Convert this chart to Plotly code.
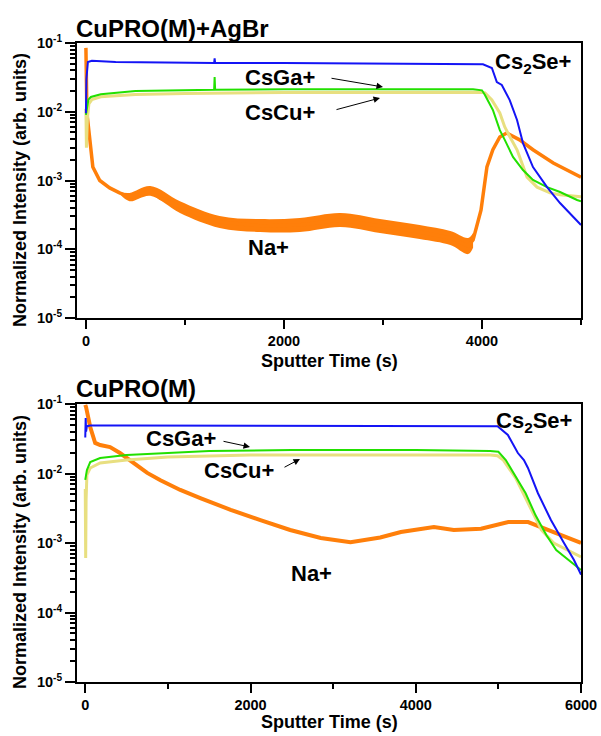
import plotly.graph_objects as go

W, H = 601, 736
FONT = "Arial, 'Liberation Sans', sans-serif"

# ---------------- top panel: CuPRO(M)+AgBr ----------------
t_blue_top = [0, 5, 20, 60, 300, 1000, 1295, 1300, 1305, 2000, 3000, 4000, 4010, 4100, 4150,
              4200, 4280, 4354, 4414, 4515, 4657, 4788, 4960, 5000]
v_blue_top = [0.0095, 0.03, 0.053, 0.055, 0.053, 0.052, 0.051, 0.060, 0.051, 0.051, 0.0505, 0.050,
              0.049, 0.0433, 0.027, 0.0245, 0.0148, 0.0076, 0.0035, 0.00157, 0.0008, 0.00047,
              0.000266, 0.000225]

t_green_top = [0, 10, 25, 50, 150, 500, 1000, 1295, 1300, 1305, 2000, 3000, 3910, 4000, 4030,
               4110, 4180, 4230, 4313, 4414, 4515, 4657, 4788, 4960, 5000]
v_green_top = [0.009, 0.012, 0.015, 0.0164, 0.018, 0.020, 0.0208, 0.0209, 0.032, 0.0209, 0.0213,
               0.0214, 0.0212, 0.0205, 0.0175, 0.0106, 0.0054, 0.0039, 0.0022, 0.00142, 0.00102,
               0.0008, 0.00068, 0.00052, 0.0005]

t_yellow_top = [0, 5, 15, 30, 60, 150, 500, 1000, 2000, 3000, 4000, 4030, 4100, 4180, 4230, 4283,
                4354, 4455, 4556, 4687, 4788, 5000]
v_yellow_top = [0.011, 0.003, 0.008, 0.013, 0.015, 0.0165, 0.0178, 0.0185, 0.019, 0.0192, 0.0192,
                0.0188, 0.0148, 0.0096, 0.006, 0.0043, 0.0028, 0.00112, 0.0008, 0.00066, 0.00062,
                0.00058]

t_orange_top = [0, 5, 10, 40, 70, 140, 240, 340, 440, 540, 650, 750, 950, 1150, 1350, 1760, 2160,
                2570, 2970, 3370, 3680, 3860, 3910, 3950, 3990, 4050, 4110, 4180, 4250, 4380,
                4515, 4720, 4860, 5000]
v_orange_top = [0.085, 0.029, 0.0096, 0.0039, 0.00157, 0.001, 0.00078, 0.00066, 0.000575,
                0.00062, 0.00071, 0.00055, 0.00041, 0.00031, 0.00025, 0.000218, 0.000225,
                0.000266, 0.000218, 0.000178, 0.000146, 0.000112, 0.000137, 0.00022, 0.00037,
                0.00157, 0.0028, 0.0043, 0.0049, 0.0039, 0.0028, 0.0018, 0.00142, 0.00112]

# noise envelope of the Na+ trace (top panel)
t_orange_env = [340, 440, 650, 950, 1350, 1760, 2160, 2570, 2970, 3370, 3680, 3860, 3910]
v_orange_up = [6.8e-4, 6.6e-4, 8.3e-4, 5.0e-4, 3.05e-4, 2.75e-4, 2.85e-4, 3.37e-4, 2.75e-4,
               2.25e-4, 1.84e-4, 1.46e-4, 1.72e-4]
v_orange_lo = [6.4e-4, 5.0e-4, 6.0e-4, 3.37e-4, 2.04e-4, 1.78e-4, 1.78e-4, 2.11e-4, 1.72e-4,
               1.41e-4, 1.15e-4, 8.5e-5, 1.05e-4]

# ---------------- bottom panel: CuPRO(M) ----------------
t_blue_bot = [0, 5, 10, 20, 60, 500, 1000, 2000, 3000, 4000, 4990, 5115, 5236, 5309, 5358, 5479,
              5636, 5794, 5915, 6000]
v_blue_bot = [0.033, 0.063, 0.040, 0.048, 0.049, 0.049, 0.049, 0.049, 0.049, 0.049, 0.048,
              0.0358, 0.0197, 0.0156, 0.012, 0.0052, 0.00214, 0.001, 0.00057, 0.00035]

t_green_bot = [0, 10, 20, 60, 180, 500, 1000, 1500, 2500, 4000, 4900, 5000, 5090, 5210, 5330,
               5450, 5580, 5700, 5820, 5940, 6000]
v_green_bot = [0.0081, 0.0105, 0.0112, 0.0146, 0.0167, 0.0185, 0.0197, 0.0211, 0.0218, 0.0218,
               0.021, 0.0205, 0.0156, 0.0092, 0.0052, 0.0025, 0.0013, 0.00079, 0.00061, 0.00048,
               0.00041]

t_yellow_bot = [0, 5, 10, 20, 60, 180, 500, 1000, 2000, 4900, 4990, 5060, 5210, 5370, 5520, 5670,
                5840, 6000]
v_yellow_bot = [0.006, 0.00061, 0.0042, 0.0096, 0.012, 0.0142, 0.0156, 0.0173, 0.0185, 0.0185,
                0.018, 0.0156, 0.0086, 0.0035, 0.00154, 0.001, 0.00079, 0.00063]

t_orange_bot = [0, 10, 60, 120, 180, 300, 420, 580, 750, 910, 1150, 1400, 1760, 2120, 2480, 2850,
                3210, 3570, 3820, 4220, 4460, 4790, 5120, 5360, 5520, 5760, 6000]
v_orange_bot = [0.097, 0.09, 0.0467, 0.0275, 0.0257, 0.024, 0.0197, 0.0142, 0.0102, 0.008, 0.0058,
                0.0044, 0.003, 0.00214, 0.00154, 0.00118, 0.00103, 0.0012, 0.00144, 0.0017,
                0.00154, 0.0016, 0.002, 0.002, 0.0017, 0.0013, 0.001]

BLUE = "#1414f5"
GREEN = "#22e000"
YELLOW = "#e8df80"
ORANGE = "#ff7f0a"

fig = go.Figure()

def add_line(t, v, color, width, xa, ya):
    fig.add_trace(go.Scatter(x=t, y=v, mode="lines", line=dict(color=color, width=width),
                             xaxis=xa, yaxis=ya, showlegend=False, hoverinfo="skip"))

# top panel traces (orange underneath)
fig.add_trace(go.Scatter(x=t_orange_env, y=v_orange_lo, mode="lines", line=dict(width=0),
                         line_shape="spline", xaxis="x", yaxis="y", showlegend=False,
                         hoverinfo="skip"))
fig.add_trace(go.Scatter(x=t_orange_env, y=v_orange_up, mode="lines", line=dict(width=0),
                         line_shape="spline", fill="tonexty", fillcolor=ORANGE, xaxis="x",
                         yaxis="y", showlegend=False, hoverinfo="skip"))
add_line(t_orange_top, v_orange_top, ORANGE, 3.5, "x", "y")
add_line(t_yellow_top, v_yellow_top, YELLOW, 3, "x", "y")
add_line(t_green_top, v_green_top, GREEN, 2, "x", "y")
add_line(t_blue_top, v_blue_top, BLUE, 2, "x", "y")

# bottom panel traces
add_line(t_orange_bot, v_orange_bot, ORANGE, 4, "x2", "y2")
add_line(t_yellow_bot, v_yellow_bot, YELLOW, 3, "x2", "y2")
add_line(t_green_bot, v_green_bot, GREEN, 2, "x2", "y2")
add_line(t_blue_bot, v_blue_bot, BLUE, 2, "x2", "y2")

def px(x):
    return x / W

def py(y):
    return 1 - y / H

y_major = [1e-5, 1e-4, 1e-3, 1e-2, 1e-1]
y_text = ["<b>10<sup>-5</sup></b>", "<b>10<sup>-4</sup></b>", "<b>10<sup>-3</sup></b>",
          "<b>10<sup>-2</sup></b>", "<b>10<sup>-1</sup></b>"]
y_minor = [k * 10 ** d for d in (-5, -4, -3, -2) for k in range(2, 10)]

tickfont = dict(family=FONT, size=14.5, color="black", weight="bold")

def xaxis_cfg(domain, rng, anchor, ticks_vals):
    return dict(domain=domain, range=rng, anchor=anchor, showline=True, linecolor="black",
                linewidth=2, mirror=True, ticks="outside", ticklen=9, tickwidth=2,
                tickcolor="black", tickvals=ticks_vals, ticktext=[str(v) for v in ticks_vals],
                tickfont=tickfont, showgrid=False, zeroline=False, automargin=False,
                minor=dict(dtick=1000, tick0=0, ticks="outside", ticklen=5, tickwidth=2,
                           tickcolor="black", showgrid=False))

def yaxis_cfg(domain, anchor):
    return dict(domain=domain, type="log", range=[-5, -1], anchor=anchor, showline=True,
                linecolor="black", linewidth=2, mirror=True, ticks="outside", ticklen=10,
                tickwidth=2, tickcolor="black", tickvals=y_major, ticktext=y_text,
                tickfont=tickfont, showgrid=False, zeroline=False, automargin=False,
                minor=dict(tickvals=y_minor, ticks="outside", ticklen=5, tickwidth=1.5,
                           tickcolor="black", showgrid=False))

xdom = [px(77), px(581)]
fig.update_layout(
    width=W, height=H, autosize=False,
    margin=dict(l=0, r=0, t=0, b=0, autoexpand=False),
    paper_bgcolor="white", plot_bgcolor="white",
    font=dict(family=FONT, color="black"),
    xaxis=xaxis_cfg(xdom, [-90, 5000], "y", [0, 2000, 4000]),
    yaxis=yaxis_cfg([py(318), py(43)], "x"),
    xaxis2=xaxis_cfg(xdom, [-100, 6000], "y2", [0, 2000, 4000, 6000]),
    yaxis2=yaxis_cfg([py(682), py(404)], "x2"),
)

annotations = []

def label(text, x, y, size=22, xanchor="left", angle=0):
    annotations.append(dict(text=text, x=px(x), y=py(y), xref="paper", yref="paper",
                            xanchor=xanchor, yanchor="middle", showarrow=False,
                            textangle=angle,
                            font=dict(family=FONT, size=size, color="black")))

def arrow(tail, head):
    annotations.append(dict(text="", x=px(head[0]), y=py(head[1]), xref="paper", yref="paper",
                            ax=tail[0] - head[0], ay=tail[1] - head[1], showarrow=True,
                            arrowhead=2, arrowsize=1.3, arrowwidth=1, arrowcolor="black",
                            standoff=0, startstandoff=0))

# panel titles
label("<b>CuPRO(M)+AgBr</b>", 74, 28, size=24)
label("<b>CuPRO(M)</b>", 74, 388, size=24)

# axis titles
label("<b>Sputter Time (s)</b>", 329, 361, size=18, xanchor="center")
label("<b>Sputter Time (s)</b>", 329, 722, size=18, xanchor="center")
label("<b>Normalized Intensity (arb. units)</b>", 20, 190, size=18, xanchor="center", angle=-90)
label("<b>Normalized Intensity (arb. units)</b>", 20, 552, size=18, xanchor="center", angle=-90)

# species labels, top
label("<b>Cs<sub>2</sub>Se+</b>", 493, 63)
label("<b>CsGa+</b>", 243, 78)
label("<b>CsCu+</b>", 243, 113)
label("<b>Na+</b>", 246, 248)
arrow((330, 78), (383, 87))
arrow((335, 110), (380, 98))

# species labels, bottom
label("<b>Cs<sub>2</sub>Se+</b>", 494, 422)
label("<b>CsGa+</b>", 144, 438)
label("<b>CsCu+</b>", 202, 470)
label("<b>Na+</b>", 289, 573)
arrow((222, 441), (250, 447))
arrow((283, 468), (300, 459))

fig.update_layout(annotations=annotations)

fig.write_html("out.html")
